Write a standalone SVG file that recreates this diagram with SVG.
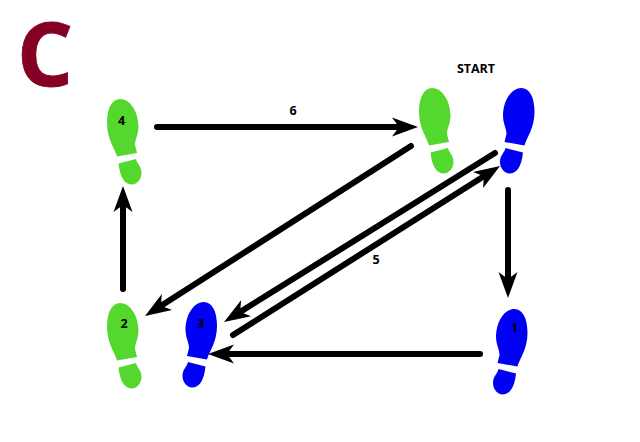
<svg xmlns="http://www.w3.org/2000/svg" xmlns:xlink="http://www.w3.org/1999/xlink" width="640" height="442" viewBox="0 0 640 442">
<style>
.lbl{font-family:"Open Sans","DejaVu Sans",sans-serif;font-weight:700;font-size:12.500px;fill:#000;text-anchor:middle}
.conn{fill:none;stroke:#000;stroke-width:6;stroke-linecap:round;marker-end:url(#head)}
.g{fill:#55d82e}
.b{fill:#0000f5}
</style>
<defs>
<marker id="head" markerUnits="userSpaceOnUse" markerWidth="30" markerHeight="26" refX="12" refY="13" orient="auto">
<path d="M0 3.500 L26 13 L0 22.500 L7 13 Z" fill="#000"/>
</marker>
<g id="shoe">
<path d="M13 0 C23 0 31 12 31.500 27 C31.500 36 28 40 28 46 L30 54 L10 57.500 C8 50 0 40 0 24 C0 9 5 0 13 0 Z"/>
<path d="M11.500 64.500 L29 60 C30 65 34.500 67 34.500 74 C34.500 81 29 85.500 25 85.500 C18 85.500 13 79 11.500 64.500 Z"/>
</g>
</defs>
<rect width="640" height="442" fill="#fff"/>
<text x="17" y="85.500" font-family="'Open Sans','DejaVu Sans',sans-serif" font-weight="700" font-size="88" fill="#840024" stroke="#840024" stroke-width="0.800">C</text>
<g id="connectors">
<path class="conn" d="M157 127 H404"/>
<path class="conn" d="M411 146 L156.800 308.500"/>
<path class="conn" d="M495 153 L235.900 314.600"/>
<path class="conn" d="M233 335 L488.200 173.500"/>
<path class="conn" d="M508 190 V284"/>
<path class="conn" d="M480 354 H222"/>
<path class="conn" d="M123 289 V200"/>
</g>
<g id="node-4"><use xlink:href="#shoe" href="#shoe" class="g" transform="translate(107 99)"/><text class="lbl" x="121.500" y="125">4</text></g>
<g id="node-6"><use xlink:href="#shoe" href="#shoe" class="g" transform="translate(419 88)"/></g>
<g id="node-2"><use xlink:href="#shoe" href="#shoe" class="g" transform="translate(107 303)"/><text class="lbl" x="124" y="328">2</text></g>
<g id="node-start"><use xlink:href="#shoe" href="#shoe" class="b" transform="translate(534.500 88) scale(-1 1)"/></g>
<g id="node-3"><use xlink:href="#shoe" href="#shoe" class="b" transform="translate(217 302) scale(-1 1)"/><text class="lbl" x="200.500" y="328">3</text></g>
<g id="node-1"><use xlink:href="#shoe" href="#shoe" class="b" transform="translate(527.500 309) scale(-1 1)"/><text class="lbl" x="514.500" y="332">1</text></g>
<text class="lbl" x="476" y="73">START</text>
<text class="lbl" x="293" y="115">6</text>
<text class="lbl" x="376" y="264">5</text>
</svg>
